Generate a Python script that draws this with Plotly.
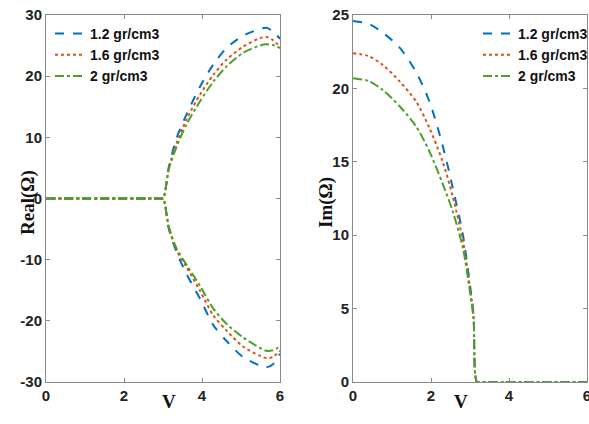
import plotly.graph_objects as go

# ---------- data ----------
labels = ["1.2 gr/cm3", "1.6 gr/cm3", "2 gr/cm3"]
colors = ["#0072BD", "#D95319", "#4E9F2A"]
dashes = ["dash", "dot", "dashdot"]

V_real = [0, 2.9, 3.0, 3.15, 3.35, 3.6, 3.95, 4.29, 4.63, 5.05, 5.48, 5.65, 5.82, 6.0]
real_up_12 = [0, 0, 0, 5.2, 9.9, 13.7, 18.3, 21.9, 24.6, 26.6, 27.7, 27.9, 27.3, 26.1]
real_up_16 = [0, 0, 0, 5.0, 9.1, 12.9, 17.0, 20.2, 22.7, 24.8, 26.2, 26.4, 25.9, 24.8]
real_up_20 = [0, 0, 0, 4.8, 8.5, 12.1, 15.9, 19.1, 21.6, 23.8, 25.0, 25.2, 25.1, 24.6]
real_lo_12 = [0, 0, 0, -5.0, -8.8, -12.3, -16.4, -20.7, -23.3, -25.9, -27.3, -27.6, -27.1, -25.4]
real_lo_16 = [0, 0, 0, -4.8, -8.5, -11.2, -15.1, -19.1, -21.6, -24.2, -25.7, -26.1, -25.9, -24.9]
real_lo_20 = [0, 0, 0, -4.6, -8.2, -10.8, -14.3, -18.0, -20.5, -22.7, -24.4, -24.9, -24.8, -24.2]

V_im = [0, 0.4, 0.76, 1.19, 1.62, 1.96, 2.3, 2.56, 2.82, 2.99, 3.09, 3.18, 3.3, 6.0]
im_12 = [24.6, 24.4, 23.8, 22.8, 21.1, 19.1, 16.1, 13.2, 10.0, 6.8, 4.6, 0, 0, 0]
im_16 = [22.4, 22.2, 21.6, 20.5, 19.1, 17.3, 15.0, 12.6, 9.6, 6.6, 4.5, 0, 0, 0]
im_20 = [20.7, 20.5, 19.9, 18.8, 17.4, 15.7, 13.5, 11.6, 9.1, 6.3, 4.3, 0, 0, 0]

x_ticks = [0, 2, 4, 6]
real_ticks = [-30, -20, -10, 0, 10, 20, 30]
real_tick_text = ["-30", "-20", "-10", "0", "10", "20", "30"]
im_ticks = [0, 5, 10, 15, 20, 25]

ups = [real_up_12, real_up_16, real_up_20]
los = [real_lo_12, real_lo_16, real_lo_20]
ims = [im_12, im_16, im_20]

fig = go.Figure()
for i in range(3):
    line = dict(color=colors[i], dash=dashes[i], width=2, shape="spline", smoothing=0.8)
    fig.add_trace(go.Scatter(x=V_real, y=ups[i], mode="lines", name=labels[i], line=line,
                             xaxis="x", yaxis="y", legend="legend"))
    fig.add_trace(go.Scatter(x=V_real, y=los[i], mode="lines", name=labels[i], line=line,
                             xaxis="x", yaxis="y", showlegend=False))
for i in range(3):
    line = dict(color=colors[i], dash=dashes[i], width=2, shape="spline", smoothing=0.8)
    fig.add_trace(go.Scatter(x=V_im, y=ims[i], mode="lines", name=labels[i], line=line,
                             xaxis="x2", yaxis="y2", legend="legend2"))

tickfont = dict(family="Liberation Sans Narrow, Liberation Sans, Arial", size=15, color="#222222", weight="bold")
axcommon = dict(showline=True, linecolor="#8a8a8a", linewidth=1, mirror="ticks", ticks="inside",
                ticklen=4, tickcolor="#8a8a8a", showgrid=False, zeroline=False, tickfont=tickfont,
                automargin=False)

legfont = dict(family="Liberation Sans Narrow, Liberation Sans, Arial", size=14, color="#111111", weight="bold")

y0 = 1 - 382 / 424
y1 = 1 - 15 / 424
fig.update_layout(
    width=589, height=424,
    margin=dict(l=0, r=0, t=0, b=0, autoexpand=False),
    paper_bgcolor="white", plot_bgcolor="white",
    xaxis=dict(domain=[46 / 589, 280 / 589], range=[0, 6], tickvals=x_ticks, anchor="y", **axcommon),
    yaxis=dict(domain=[y0, y1], range=[-30, 30], tickvals=real_ticks, ticktext=real_tick_text,
               anchor="x", **axcommon),
    xaxis2=dict(domain=[353 / 589, 587 / 589], range=[0, 6], tickvals=x_ticks, anchor="y2",
                ticklabeloverflow="allow", **axcommon),
    yaxis2=dict(domain=[y0, y1], range=[0, 25], tickvals=im_ticks, anchor="x2", **axcommon),
    legend=dict(x=50 / 589, y=1 - 18 / 424, xanchor="left", yanchor="top", bgcolor="rgba(0,0,0,0)",
                font=legfont, tracegroupgap=0, itemwidth=30),
    legend2=dict(x=478 / 589, y=1 - 18 / 424, xanchor="left", yanchor="top", bgcolor="rgba(0,0,0,0)",
                 font=legfont, tracegroupgap=0, itemwidth=30),
    showlegend=True,
)

titlefont = dict(family="Liberation Serif, Times New Roman, serif", size=19, color="#111111", weight="bold")
fig.add_annotation(text="Real(Ω)", xref="paper", yref="paper", x=15 / 589, y=1 - 203 / 424,
                   textangle=-90, showarrow=False, font=titlefont)
fig.add_annotation(text="Im(Ω)", xref="paper", yref="paper", x=326 / 589, y=1 - 203 / 424,
                   textangle=-90, showarrow=False, font=titlefont)
fig.add_annotation(text="V", xref="paper", yref="paper", x=160 / 589, y=1 - 414 / 424,
                   showarrow=False, font=titlefont)
fig.add_annotation(text="V", xref="paper", yref="paper", x=470 / 589, y=1 - 414 / 424,
                   showarrow=False, font=titlefont)

fig.write_html("out.html", config={"displayModeBar": False},
               post_script="document.body.style.margin='0';")
